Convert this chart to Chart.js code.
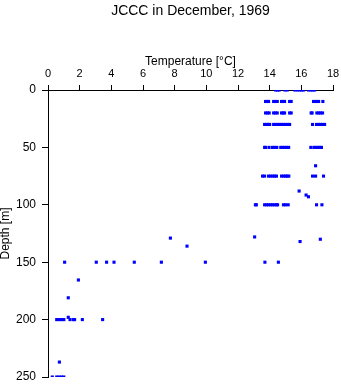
<!DOCTYPE html>
<html lang="en">
<head>
    <meta charset="UTF-8">
    <title>JCCC in December, 1969</title>
    <script src="https://cdn.jsdelivr.net/npm/chart.js"></script>
    <style>
        html, body { margin: 0; padding: 0; background: #fff; }
        #wrap { width: 341px; height: 384px; position: relative; }
    </style>
</head>
<body>
    <div id="wrap"><canvas id="chart"></canvas></div>
    <script>
        // depth rows (m) and the temperatures (°C) sampled on each row
        const rowDepths = [0, 10, 20, 30, 50, 75, 100, 150, 200, 250];
        const rowTemps = [
            [14.37, 14.5, 14.6, 14.96, 15.11, 15.59, 15.75, 15.9, 16.02, 16.14, 16.46, 16.6, 16.72, 16.84],
            [13.74, 13.84, 13.93, 14.25, 14.36, 14.48, 14.75, 14.85, 14.94, 15.26, 15.36, 16.77, 16.9, 17.0, 17.09, 17.36],
            [13.74, 13.86, 13.97, 14.25, 14.36, 14.48, 14.75, 14.85, 14.94, 15.26, 15.36, 16.62, 16.68, 16.98, 17.1, 17.22, 17.34],
            [13.68, 13.8, 13.9, 14.0, 14.25, 14.37, 14.5, 14.62, 14.75, 14.87, 15.0, 15.13, 15.26, 16.71, 16.96, 17.1, 17.22, 17.35, 17.47],
            [13.68, 13.74, 13.96, 14.18, 14.3, 14.45, 14.7, 14.82, 14.95, 15.08, 15.2, 16.6, 16.8, 16.93, 17.05, 17.17, 17.27],
            [13.55, 13.68, 13.93, 14.06, 14.2, 14.31, 14.43, 14.75, 14.87, 15.0, 15.1, 15.21, 16.71, 16.9, 17.4],
            [13.1, 13.16, 13.68, 13.8, 13.93, 14.06, 14.18, 14.3, 14.43, 14.5, 14.87, 15.0, 15.17, 16.96, 17.3],
            [1.05, 3.05, 3.7, 4.17, 5.45, 7.16, 9.94, 13.7, 14.55],
            [0.55, 0.7, 0.85, 1.0, 1.39, 1.6, 1.68, 2.17, 3.45],
            [0.27, 0.55, 0.7, 0.85, 1.0]
        ];
        // odd samples between the rows
        const extraTemps = [16.9, 15.86, 16.3, 16.45, 13.05, 17.2, 15.92, 7.73, 8.78, 1.92, 1.28, 1.28, 0.72];
        const extraDepths = [66, 88, 91.5, 93, 128, 130, 132, 129, 136, 165.5, 181, 198, 237];

        const tempTicks = [0, 2, 4, 6, 8, 10, 12, 14, 16, 18];
        const depthTicks = [0, 50, 100, 150, 200, 250];

        const points = [];
        rowDepths.forEach((d, i) => rowTemps[i].forEach(t => points.push({ x: t, y: d })));
        extraTemps.forEach((t, i) => points.push({ x: t, y: extraDepths[i] }));

        const FONT = 'Liberation Sans, Arial, Helvetica, sans-serif';

        // title centred over the plot area
        const plotTitle = {
            id: 'plotTitle',
            afterDraw(chart) {
                const ctx = chart.ctx;
                const a = chart.chartArea;
                ctx.save();
                ctx.font = '14px ' + FONT;
                ctx.fillStyle = '#000';
                ctx.textAlign = 'center';
                ctx.textBaseline = 'middle';
                ctx.fillText('JCCC in December, 1969', (a.left + a.right) / 2, 11);
                ctx.restore();
            }
        };

        new Chart(document.getElementById('chart'), {
            type: 'scatter',
            data: {
                datasets: [{
                    data: points,
                    backgroundColor: '#0000ff',
                    borderWidth: 0,
                    pointStyle: 'rect',
                    pointRadius: 2.2,
                    pointHoverRadius: 2.2
                }]
            },
            options: {
                responsive: true,
                maintainAspectRatio: false,
                animation: false,
                events: [],
                layout: { padding: { left: 0, right: 8, top: 1, bottom: 7 } },
                plugins: {
                    legend: { display: false },
                    title: { display: false },
                    tooltip: { enabled: false }
                },
                scales: {
                    x: {
                        type: 'linear',
                        position: 'top',
                        min: 0,
                        max: 18,
                        afterBuildTicks: s => { s.ticks = tempTicks.map(v => ({ value: v })); },
                        afterFit: s => { s.height = 89; s.paddingLeft = 0; s.paddingRight = 0; },
                        ticks: { color: '#000', font: { family: FONT, size: 11 }, padding: 4, maxRotation: 0 },
                        grid: { drawOnChartArea: false, drawTicks: true, tickLength: 5, color: '#000' },
                        border: { display: true, color: '#000', width: 1 },
                        title: {
                            display: true,
                            text: 'Temperature [°C]',
                            color: '#000',
                            font: { family: FONT, size: 12, lineHeight: 1 },
                            padding: { top: 55, bottom: 0 }
                        }
                    },
                    y: {
                        type: 'linear',
                        position: 'left',
                        reverse: true,
                        min: 0,
                        max: 250,
                        afterBuildTicks: s => { s.ticks = depthTicks.map(v => ({ value: v })); },
                        afterFit: s => { s.width = 48; s.paddingTop = 0; s.paddingBottom = 0; },
                        ticks: { color: '#000', font: { family: FONT, size: 12 }, padding: 6 },
                        grid: { drawOnChartArea: false, drawTicks: true, tickLength: 6, color: '#000' },
                        border: { display: true, color: '#000', width: 1 },
                        title: {
                            display: true,
                            text: 'Depth [m]',
                            color: '#000',
                            font: { family: FONT, size: 12, lineHeight: 1 },
                            padding: { top: 0, bottom: 0 }
                        }
                    }
                }
            },
            plugins: [plotTitle]
        });
    </script>
</body>
</html>
